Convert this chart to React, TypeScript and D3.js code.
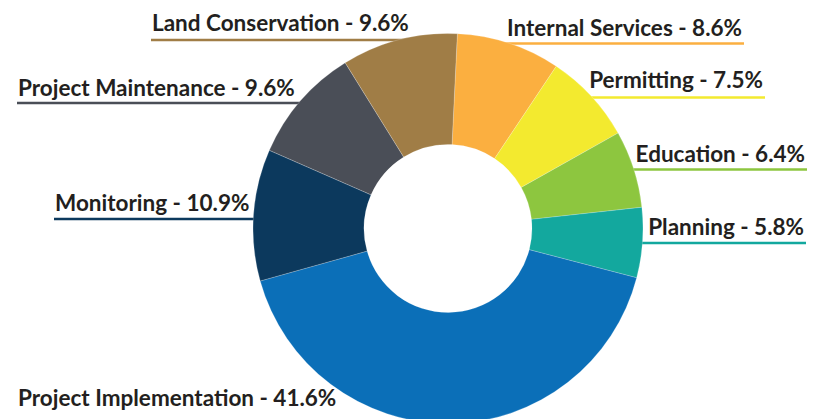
import React from "react";
import * as d3 from "d3";

const categories = [
  "Internal Services",
  "Permitting",
  "Education",
  "Planning",
  "Project Implementation",
  "Monitoring",
  "Project Maintenance",
  "Land Conservation",
];
const shares = [8.6, 7.5, 6.4, 5.8, 41.6, 10.9, 9.6, 9.6];
const colors = [
  "#FBAF40",
  "#F3EA2F",
  "#8DC63F",
  "#13A89E",
  "#0B6FB8",
  "#0C395D",
  "#4A4E57",
  "#A07D46",
];

// label layout: side, anchor x, baseline y, underline y
const labelLayout = [
  { side: "right", x: 742, y: 36, ly: 43.5 },
  { side: "right", x: 763, y: 88, ly: 97.5 },
  { side: "right", x: 805, y: 162, ly: 169.5 },
  { side: "right", x: 804, y: 235, ly: 243 },
  { side: "left", x: 18, y: 406, ly: null },
  { side: "left", x: 55, y: 211, ly: 219 },
  { side: "left", x: 18, y: 96, ly: 103 },
  { side: "left", x: 152, y: 31, ly: 40 },
];

const W = 830;
const H = 419;
const cx = 448;
const cy = 228.5;
const R = 195;
const r = 84;

export default function App() {
  const pie = d3
    .pie<number>()
    .sort(null)
    .value((d) => d)
    .startAngle(0.048)
    .endAngle(0.048 + Math.PI * 2);
  const arcs = pie(shares);
  const arcGen = d3.arc<d3.PieArcDatum<number>>().innerRadius(r).outerRadius(R);
  const fmt = d3.format(".1f");

  return (
    <svg
      width={W}
      height={H}
      style={{ position: "absolute", left: 0, top: 0, background: "#fff" }}
      fontFamily="Lato, 'Open Sans', sans-serif"
    >
      <rect width={W} height={H} fill="#fff" />
      {/* underlines (drawn behind the pie, ending just inside its rim) */}
      {labelLayout.map((l, i) => {
        if (l.ly == null) return null;
        const dy = l.ly - cy;
        const half = Math.sqrt(Math.max(0, R * R - dy * dy));
        const x1 = l.side === "left" ? l.x - 1 : cx + half - 8;
        const x2 = l.side === "left" ? cx - half + 8 : l.x + 2;
        return (
          <line
            key={"u" + i}
            x1={x1}
            x2={x2}
            y1={l.ly}
            y2={l.ly}
            stroke={colors[i]}
            strokeWidth={2.6}
          />
        );
      })}
      <g transform={`translate(${cx},${cy})`}>
        {arcs.map((a, i) => (
          <path
            key={i}
            d={arcGen(a) || ""}
            fill={colors[i]}
            stroke="#ffffff"
            strokeOpacity={0.35}
            strokeWidth={0.6}
          />
        ))}
      </g>
      {labelLayout.map((l, i) => (
        <text
          key={"t" + i}
          x={l.x}
          y={l.y}
          textAnchor={l.side === "left" ? "start" : "end"}
          fontSize={22.5}
          fontWeight={700}
          fill="#231F20"
        >
          {`${categories[i]} - ${fmt(shares[i])}%`}
        </text>
      ))}
    </svg>
  );
}
